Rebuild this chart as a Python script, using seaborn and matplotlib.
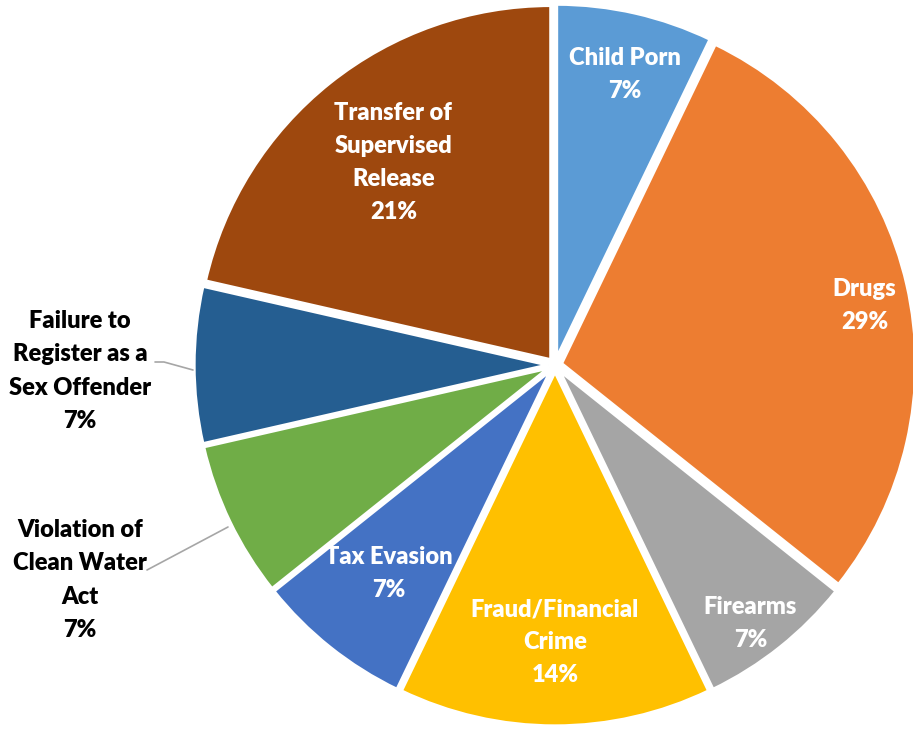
import numpy as np
import matplotlib
matplotlib.use("Agg")
import matplotlib.pyplot as plt
import seaborn as sns

categories = ["Child Porn", "Drugs", "Firearms", "Fraud/Financial\nCrime", "Tax Evasion",
              "Violation of\nClean Water\nAct", "Failure to\nRegister as a\nSex Offender",
              "Transfer of\nSupervised\nRelease"]
counts = [1, 4, 1, 2, 1, 1, 1, 3]
percent_labels = ["7%", "29%", "7%", "14%", "7%", "7%", "7%", "21%"]
colors = ["#5B9BD5", "#ED7D31", "#A5A5A5", "#FFC000", "#4472C4", "#70AD47", "#255E91", "#9E480E"]

sns.set_theme(style="white")
plt.rcParams['font.family'] = ['Lato', 'DejaVu Sans']

W, H = 913, 730
fig = plt.figure(figsize=(W / 100, H / 100), dpi=100)
cx, cy, R = 555, 365, 360
ax = fig.add_axes([(cx - R) / W, (cy - R) / H, 2 * R / W, 2 * R / H])
pal = sns.color_palette(colors)

wedges, _ = ax.pie(counts, colors=pal, startangle=90, counterclock=False,
                   explode=[0.018] * len(counts), radius=0.985,
                   wedgeprops=dict(edgecolor="white", linewidth=2.5))
ax.set_xlim(-1, 1)
ax.set_ylim(-1, 1)
ax.set_aspect("equal")
ax.axis("off")

# label placement (radial distance, angle nudge in degrees)
inside_dist = [0.83, 0.875, 0.90, 0.77, 0.74, None, None, 0.72]
angle_nudge = [-0.6, -2.0, -1.5, 0, 0, 0, 0, 0]
fs = 17
ls = 1.62
for w, name, pct, d, da in zip(wedges, categories, percent_labels, inside_dist, angle_nudge):
    mid = np.deg2rad((w.theta1 + w.theta2) / 2 + da)
    if d is not None:
        ax.text(d * np.cos(mid), d * np.sin(mid), f"{name}\n{pct}", ha="center", va="center",
                color="white", fontsize=fs, fontweight="heavy", linespacing=ls)

def px(x, y):
    return ((x - cx) / R, (cy - y) / R)

# outside labels with leader lines
outside = {6: ((80, 371), [(155, 362), (164, 362), (193, 370)]),
           5: ((80, 580), [(147, 570), (228, 527)])}
for i, (tpos, line) in outside.items():
    tx, ty = px(*tpos)
    ax.text(tx, ty, f"{categories[i]}\n{percent_labels[i]}", ha="center", va="center",
            color="black", fontsize=fs, fontweight="heavy", linespacing=ls, clip_on=False)
    pts = np.array([px(*p) for p in line])
    ax.plot(pts[:, 0], pts[:, 1], color="#A6A6A6", lw=1.2, clip_on=False)

fig.savefig("out.png", dpi=100, facecolor="white")
